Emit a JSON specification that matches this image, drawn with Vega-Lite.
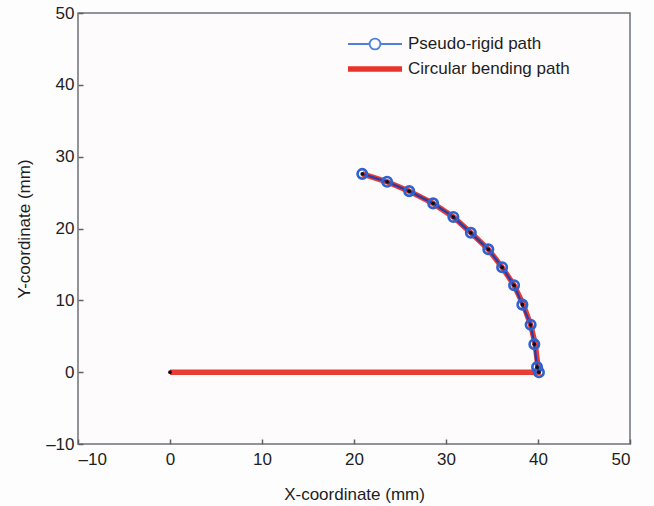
{
  "$schema": "https://vega.github.io/schema/vega-lite/v6.json",
  "width": 552,
  "height": 431,
  "autosize": {"type": "none"},
  "padding": {"left": 78, "top": 13, "right": 24, "bottom": 62},
  "background": "#fdfdfd",
  "config": {
    "font": "Liberation Sans",
    "view": {"stroke": "#6d7177", "strokeWidth": 1.5, "fill": "#fdfbfb"},
    "axis": {
      "grid": false,
      "domain": false,
      "tickColor": "#5f6368",
      "tickWidth": 1.5,
      "tickSize": -5,
      "labelFont": "Liberation Sans",
      "labelFontSize": 17,
      "labelColor": "#1e1e1e",
      "titleFont": "Liberation Sans",
      "titleFontSize": 17,
      "titleFontWeight": "normal",
      "titleColor": "#1e1e1e"
    }
  },
  "datasets": {
    "paths": [
      {"series": "Circular bending path", "i": 0, "x": 0, "y": 0},
      {"series": "Circular bending path", "i": 1, "x": 40.0, "y": 0},
      {"series": "Circular bending path", "i": 2, "x": 40.0, "y": 0.7},
      {"series": "Circular bending path", "i": 3, "x": 39.7, "y": 3.9},
      {"series": "Circular bending path", "i": 4, "x": 39.2, "y": 6.6},
      {"series": "Circular bending path", "i": 5, "x": 38.4, "y": 9.4},
      {"series": "Circular bending path", "i": 6, "x": 37.4, "y": 12.1},
      {"series": "Circular bending path", "i": 7, "x": 36.1, "y": 14.6},
      {"series": "Circular bending path", "i": 8, "x": 34.6, "y": 17.1},
      {"series": "Circular bending path", "i": 9, "x": 32.7, "y": 19.4},
      {"series": "Circular bending path", "i": 10, "x": 30.8, "y": 21.6},
      {"series": "Circular bending path", "i": 11, "x": 28.6, "y": 23.5},
      {"series": "Circular bending path", "i": 12, "x": 26.0, "y": 25.2},
      {"series": "Circular bending path", "i": 13, "x": 23.6, "y": 26.5},
      {"series": "Circular bending path", "i": 14, "x": 20.9, "y": 27.6},
      {"series": "Pseudo-rigid path", "i": 0, "x": 40.1, "y": 0},
      {"series": "Pseudo-rigid path", "i": 1, "x": 39.9, "y": 0.7},
      {"series": "Pseudo-rigid path", "i": 2, "x": 39.6, "y": 3.9},
      {"series": "Pseudo-rigid path", "i": 3, "x": 39.2, "y": 6.6},
      {"series": "Pseudo-rigid path", "i": 4, "x": 38.3, "y": 9.4},
      {"series": "Pseudo-rigid path", "i": 5, "x": 37.4, "y": 12.1},
      {"series": "Pseudo-rigid path", "i": 6, "x": 36.1, "y": 14.6},
      {"series": "Pseudo-rigid path", "i": 7, "x": 34.6, "y": 17.1},
      {"series": "Pseudo-rigid path", "i": 8, "x": 32.7, "y": 19.4},
      {"series": "Pseudo-rigid path", "i": 9, "x": 30.8, "y": 21.6},
      {"series": "Pseudo-rigid path", "i": 10, "x": 28.6, "y": 23.5},
      {"series": "Pseudo-rigid path", "i": 11, "x": 26.0, "y": 25.2},
      {"series": "Pseudo-rigid path", "i": 12, "x": 23.6, "y": 26.5},
      {"series": "Pseudo-rigid path", "i": 13, "x": 20.9, "y": 27.6}
    ],
    "dots": [
      {"x": 0, "y": 0},
      {"x": 40.1, "y": 0},
      {"x": 39.9, "y": 0.7},
      {"x": 39.6, "y": 3.9},
      {"x": 39.2, "y": 6.6},
      {"x": 38.3, "y": 9.4},
      {"x": 37.4, "y": 12.1},
      {"x": 36.1, "y": 14.6},
      {"x": 34.6, "y": 17.1},
      {"x": 32.7, "y": 19.4},
      {"x": 30.8, "y": 21.6},
      {"x": 28.6, "y": 23.5},
      {"x": 26.0, "y": 25.2},
      {"x": 23.6, "y": 26.5},
      {"x": 20.9, "y": 27.6}
    ]
  },
  "encoding": {
    "x": {
      "field": "x", "type": "quantitative",
      "scale": {"domain": [-10, 50], "nice": false, "zero": false},
      "axis": {"values": [-10, 0, 10, 20, 30, 40, 50], "title": "X-coordinate (mm)", "labelPadding": 12, "titlePadding": 19, "labelExpr": "replace(datum.label, '−', '–')"}
    },
    "y": {
      "field": "y", "type": "quantitative",
      "scale": {"domain": [-10, 50], "nice": false, "zero": false},
      "axis": {"values": [-10, 0, 10, 20, 30, 40, 50], "title": "Y-coordinate (mm)", "labelPadding": 9, "titlePadding": 12, "labelExpr": "replace(datum.label, '−', '–')"}
    }
  },
  "layer": [
    {
      "data": {"name": "paths"},
      "transform": [{"filter": "datum.series === 'Circular bending path'"}],
      "mark": {"type": "line", "strokeWidth": 5.5, "strokeCap": "butt", "opacity": 0.95},
      "encoding": {
        "order": {"field": "i", "type": "quantitative"},
        "color": {
          "field": "series", "type": "nominal",
          "scale": {"domain": ["Pseudo-rigid path", "Circular bending path"], "range": ["#4f80dc", "#e8322a"]},
          "legend": {
            "orient": "none",
            "legendX": 267,
            "legendY": 18.5,
            "title": null,
            "padding": 0,
            "symbolSize": 2916,
            "symbolType": {"expr": "(datum.value === 'Pseudo-rigid path' ? 'M-1,0H-0.2A0.2,0.2 0 1,1 0.2,0A0.2,0.2 0 1,1 -0.2,0M0.2,0H1' : 'stroke')"},
            "symbolStrokeWidth": {"expr": "(datum.value === 'Pseudo-rigid path' ? 1.8 : 5.5)"},
            "symbolOpacity": 1,
            "symbolFillColor": "transparent",
            "clipHeight": 25,
            "labelFont": "Liberation Sans",
            "labelFontSize": 17,
            "labelColor": "#1e1e1e",
            "labelOffset": 3,
            "labelLimit": 400,
            "rowPadding": 0
          }
        }
      }
    },
    {
      "data": {"name": "paths"},
      "transform": [{"filter": "datum.series === 'Pseudo-rigid path'"}],
      "mark": {"type": "line", "strokeWidth": 2.4, "color": "#2a3ea8"},
      "encoding": {
        "order": {"field": "i", "type": "quantitative"}
      }
    },
    {
      "data": {"name": "paths"},
      "transform": [{"filter": "datum.series === 'Pseudo-rigid path'"}],
      "mark": {"type": "point", "shape": "circle", "size": 90, "filled": false, "strokeWidth": 2.6, "color": "#2f62cf", "opacity": 1},
      "encoding": {}
    },
    {
      "data": {"name": "dots"},
      "mark": {"type": "point", "shape": "circle", "size": 14, "filled": true, "color": "#111111", "opacity": 1},
      "encoding": {}
    }
  ]
}
